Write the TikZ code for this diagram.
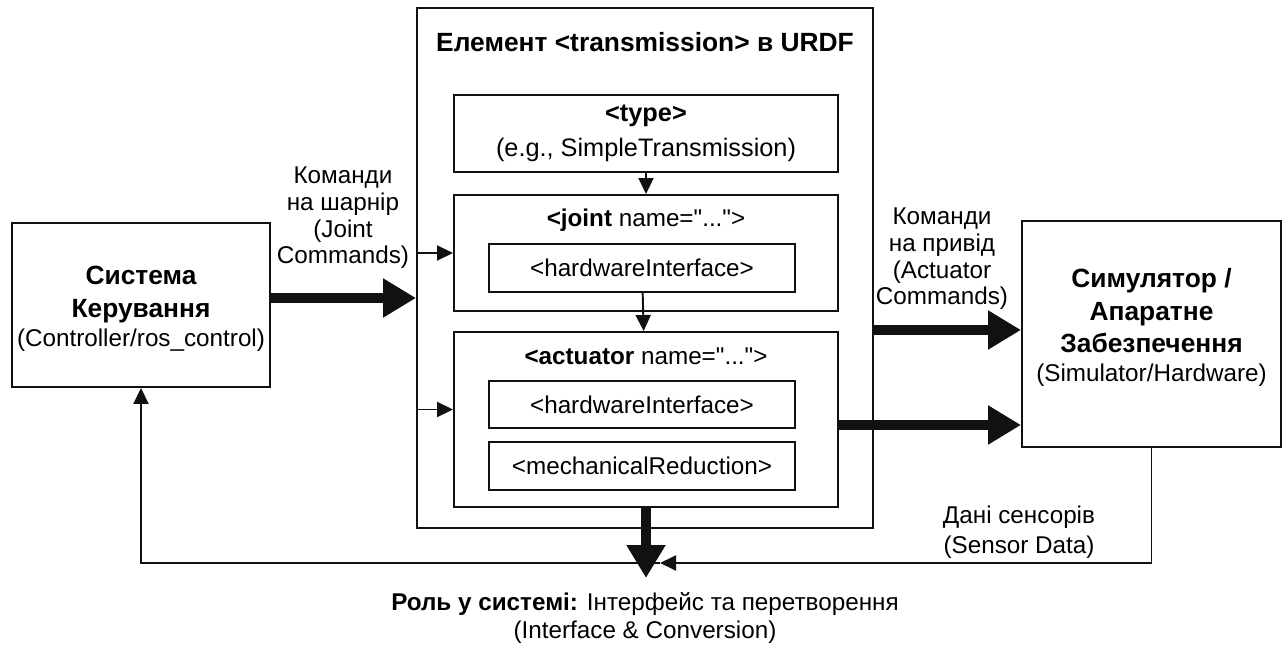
\documentclass[tikz,border=0pt]{standalone}
\usepackage{fontspec}
\setmainfont{Liberation Sans}
\usetikzlibrary{arrows.meta,positioning,calc}
\definecolor{ThemeLine}{HTML}{111111}
\newcommand{\dq}{\textquotedbl}
\newcommand{\hdr}[1]{{\fontsize{15}{18.5}\bfseries #1}}

\begin{document}
\begin{tikzpicture}[font=\fontsize{13.8}{18.5}\selectfont,
 box/.style={draw=ThemeLine,line width=1.1pt,align=center,inner sep=0pt},
 thinarrow/.style={-{Triangle[length=0.32cm,width=0.3cm]},line width=1.1pt,color=ThemeLine},
 thickarrow/.style={-{Triangle[length=0.66cm,width=0.74cm]},line width=5.5pt,color=ThemeLine}]
\useasboundingbox (0,0) rectangle (25.72,12.9);
\node[box,minimum width=5.16cm,minimum height=3.28cm] (ctrl) at (2.82,6.8) {};
\node[align=center] (ctrltext) at ([yshift=-0.08cm]ctrl.center)
 {\hdr{Система}\\\hdr{Керування}\\[-1.5pt](Controller/ros\_control)};
\node[box,minimum width=9.12cm,minimum height=10.4cm] (outer) at (12.9,7.54) {};
\node (title) at (12.9,12.06) {\hdr{Елемент <transmission> в URDF}};
\node[box,minimum width=7.68cm,minimum height=1.54cm,font=\fontsize{14.4}{19.5}\selectfont] (type) at (12.92,10.23)
 {\textbf{<type>}\\(e.g., SimpleTransmission)};
\node[box,minimum width=7.68cm,minimum height=2.32cm] (joint) at (12.92,7.84) {};
\node (jointtitle) at (12.92,8.5) {\textbf{<joint} name=\dq...\dq>};
\node[box,minimum width=6.12cm,minimum height=0.96cm] (jointhw) at (12.84,7.54) {<hardwareInterface>};
\node[box,minimum width=7.68cm,minimum height=3.5cm] (act) at (12.92,4.51) {};
\node (acttitle) at (12.92,5.78) {\textbf{<actuator} name=\dq...\dq>};
\node[box,minimum width=6.12cm,minimum height=0.94cm] (acthw) at (12.84,4.81) {<hardwareInterface>};
\node[box,minimum width=6.12cm,minimum height=0.96cm] (mech) at (12.84,3.58) {<mechanicalReduction>};
\node[box,minimum width=5.18cm,minimum height=4.52cm] (sim) at (23.03,6.22) {};
\node[align=center] (simtext) at ([yshift=0.13cm]sim.center)
 {\hdr{Симулятор /}\\\hdr{Апаратне}\\\hdr{Забезпечення}\\[-2pt](Simulator/Hardware)};
\node[align=center,font=\fontsize{13.8}{15.2}\selectfont] (jointcmd) at (6.86,8.54)
 {Команди\\на шарнір\\(Joint\\Commands)};
\node[align=center,font=\fontsize{13.8}{15.2}\selectfont] (actcmd) at (18.84,7.72)
 {Команди\\на привід\\(Actuator\\Commands)};
\node[align=center,font=\fontsize{13.8}{17}\selectfont] (sensdata) at (20.38,2.26)
 {Дані сенсорів\\(Sensor Data)};
\node[align=center,font=\fontsize{13.8}{15.5}\selectfont] (role) at (12.9,0.54)
 {\textbf{Роль у системі:} Інтерфейс та перетворення\\(Interface \& Conversion)};
\coordinate (rolein) at (12.92,1.34);
\coordinate (sensin) at (13.2,1.64);
\draw[thinarrow] (type) -- (joint);
\draw[thinarrow] (jointhw) -- (act);
\draw[thinarrow] (joint.west -| outer.west) -- (joint.west);
\draw[thinarrow] ([yshift=0.2cm]act.west -| outer.west) -- ([yshift=0.2cm]act.west);
\draw[thickarrow] ([yshift=0.14cm]ctrl.east) -- ([yshift=0.14cm]ctrl.east -| outer.west);
\draw[thickarrow] ([yshift=0.08cm]sim.west -| outer.east) -- ([yshift=0.08cm]sim.west);
\draw[thickarrow] ([yshift=-0.11cm]act.east) -- ([yshift=-0.11cm]act.east -| sim.west);
\draw[thinarrow] (sim.south) |- (sensin);
\draw[thinarrow] (sensin) -| (ctrl.south);
\draw[thickarrow] (act.south) -- (rolein);
\end{tikzpicture}
\end{document}
